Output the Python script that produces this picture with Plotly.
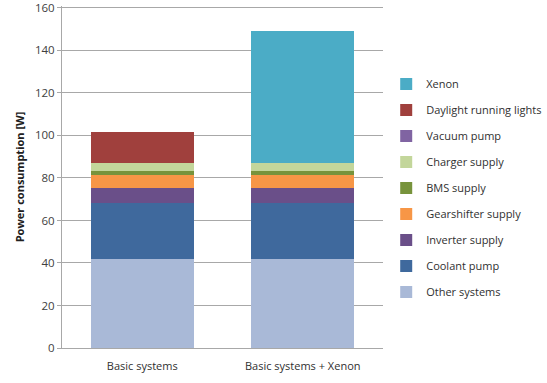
import plotly.graph_objects as go

categories = ["Basic systems", "Basic systems + Xenon"]
series_names = ["Other systems", "Coolant pump", "Inverter supply", "Gearshifter supply",
                "BMS supply", "Charger supply", "Vacuum pump", "Daylight running lights", "Xenon"]
other_systems = [41.8, 41.8]
coolant_pump = [26.3, 26.3]
inverter_supply = [7.3, 7.3]
gearshifter_supply = [5.8, 5.8]
bms_supply = [2.3, 2.3]
charger_supply = [3.6, 3.6]
vacuum_pump = [0, 0]
daylight_running_lights = [14.4, 0]
xenon = [0, 62.2]
values = [other_systems, coolant_pump, inverter_supply, gearshifter_supply, bms_supply,
          charger_supply, vacuum_pump, daylight_running_lights, xenon]
colors = ["#A9B9D7", "#3F699D", "#6A4F89", "#F79646", "#77933C",
          "#C3D69B", "#8064A2", "#A0403D", "#4BACC6"]

fig = go.Figure()
n = len(series_names)
for i, (name, vals, col) in enumerate(zip(series_names, values, colors)):
    fig.add_trace(go.Bar(x=categories, y=vals, name=name, marker_color=col,
                         marker_line_width=0, legendgroup=name, legendrank=100 * (n - i)))

font = "Open Sans, Liberation Sans, sans-serif"
fig.update_layout(
    barmode="stack",
    bargap=0.36,
    width=547, height=383,
    margin=dict(l=62, r=164, t=6, b=35, autoexpand=False),
    paper_bgcolor="white", plot_bgcolor="white",
    font=dict(family=font, size=11, color="#404040"),
    legend=dict(traceorder="grouped", x=1.01, xanchor="left", y=0.468, yanchor="middle",
                font=dict(size=11, color="#303030"), tracegroupgap=7,
                itemwidth=30, bgcolor="rgba(0,0,0,0)"),
    yaxis=dict(range=[0, 160.9], tick0=0, dtick=20, showgrid=True, gridcolor="#A8A8A8", gridwidth=1,
               showline=True, linecolor="#A8A8A8", ticks="outside", ticklen=4,
               tickcolor="#A8A8A8", zeroline=False, ticklabeloverflow="allow",
               title=dict(text="<b>Power consumption [W]</b>", font=dict(size=11, color="#202020"),
                          standoff=8),
               tickfont=dict(size=11.5, color="#404040")),
    xaxis=dict(showline=True, linecolor="#A8A8A8", ticks="", ticklabelstandoff=8,
               tickfont=dict(size=11, color="#303030")),
    showlegend=True,
)
fig.write_html("out.html")
